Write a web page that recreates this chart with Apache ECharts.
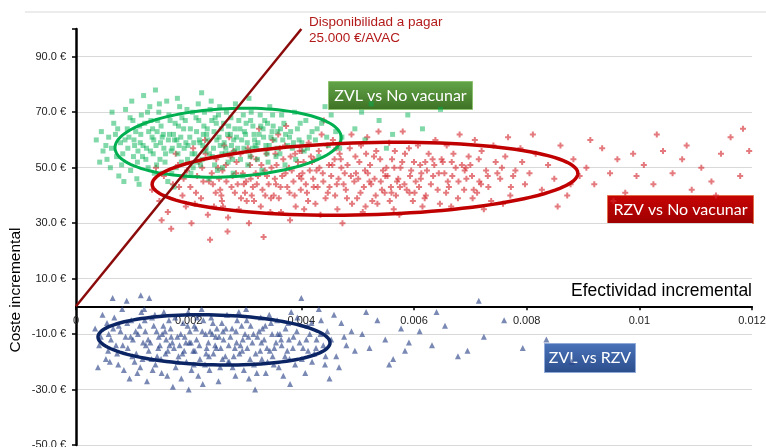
<!DOCTYPE html>
<html><head><meta charset="utf-8">
<script src="https://cdn.jsdelivr.net/npm/echarts@6/dist/echarts.min.js"></script>
<style>html,body{margin:0;padding:0;background:#fff}#c{width:766px;height:447px}</style>
</head><body><div id="c"></div>
<script>
// Axis settings
const xMin = 0, xMax = 0.012, xInterval = 0.002;
const yMin = -50, yMax = 100, yInterval = 20;
// Willingness-to-pay line: 25.000 €/AVAC
const wtpX = [0, 0.004];
const wtpY = [0, 100];
// Ellipses: [cx, cy, rx, ry, tilt°] in data units
const ellZVLvsNV = [0.0027, 59, 0.00201, 12.3, 2.8];
const ellRZVvsNV = [0.00513, 46, 0.00378, 13, 1.5];
const ellZVLvsRZV = [0.00245, -12.1, 0.00206, 9.0, -1.5];
// Scatter clouds
const zvlVsNoVac = [[0.00042,52],[0.00036,60],[0.00048,56],[0.00045,63],
[0.00053,58],[0.00061,50],[0.00067,66],[0.00072,54],[0.00058,61],[0.00076,47],[0.00064,70],[0.00079,59],[0.00055,53],[0.0007,62],
[0.00083,55],[0.00091,64],[0.00097,49],[0.00104,58],[0.00088,71],[0.00109,52],[0.00094,61],[0.00101,67],[0.00085,45],[0.0011,56],[0.00099,74],[0.00106,63],
[0.00114,59],[0.00122,66],[0.00128,50],[0.00135,61],[0.00118,54],[0.00131,72],[0.00125,57],[0.00139,48],[0.00116,69],[0.00129,63],[0.00137,55],[0.0012,76],[0.00112,44],[0.00133,67],
[0.00142,58],[0.00151,65],[0.00158,52],[0.00164,60],[0.00147,70],[0.00169,56],[0.00154,48],[0.00144,63],[0.00161,74],[0.00156,57],[0.00167,67],[0.00149,53],[0.00153,61],[0.00163,45],[0.00141,78],
[0.00173,62],[0.00181,55],[0.00188,68],[0.00195,59],[0.00178,50],[0.00191,64],[0.00184,72],[0.00171,57],[0.00198,53],[0.00186,61],[0.00176,66],[0.00193,47],[0.0018,75],[0.00199,58],[0.00174,43],
[0.00202,61],[0.00211,55],[0.00218,67],[0.00225,58],[0.00207,70],[0.00221,51],[0.00214,63],[0.00229,56],[0.00204,48],[0.00217,73],[0.00227,65],[0.00209,59],[0.00212,52],[0.00223,77],
[0.00234,60],[0.00242,54],[0.00249,66],[0.00256,58],[0.00238,71],[0.00251,49],[0.00245,63],[0.00259,55],[0.00231,57],[0.00247,68],[0.00254,61],[0.00236,46],[0.0024,74],[0.00258,64],
[0.00263,59],[0.00271,65],[0.00278,53],[0.00285,61],[0.00267,70],[0.00281,56],[0.00274,62],[0.00289,67],[0.0026,50],[0.00276,58],[0.00283,73],[0.00265,55],[0.00279,48],
[0.00294,60],[0.00302,66],[0.00309,54],[0.00316,62],[0.00298,57],[0.00311,70],[0.00305,51],[0.00291,64],[0.00318,58],[0.00307,75],[0.00296,47],[0.00314,65],
[0.00323,59],[0.00332,64],[0.00339,55],[0.00346,61],[0.00327,69],[0.00341,52],[0.00335,67],[0.00321,57],[0.00348,63],[0.0033,49],[0.00344,72],
[0.00353,60],[0.00362,55],[0.00369,66],[0.00376,58],[0.00358,63],[0.00371,51],[0.00365,69],[0.00379,61],[0.00355,54],
[0.00384,57],[0.00393,64],[0.00401,59],[0.00408,67],[0.0039,53],[0.00414,61],[0.00388,70],[0.00405,56],[0.00419,63],
[0.00425,60],[0.00436,66],[0.00448,58],[0.00461,63],[0.00431,54],[0.00453,69],[0.00472,61],[0.00442,72],[0.00468,57],
[0.00495,64],[0.00513,60],[0.00538,67],[0.00562,62],[0.00589,69],[0.00615,64],[0.00647,71],[0.00507,70],[0.00551,57],[0.00524,73],
[0.00092,57],[0.00103,60],[0.00124,53],[0.00136,64],[0.0015,59],[0.00166,62],[0.00179,60],[0.00194,67],[0.00206,55],[0.00219,60],[0.00233,64],[0.00244,57],[0.00253,69],[0.00269,62],[0.0028,60],[0.00299,63],[0.00304,59],[0.00325,62],[0.00337,58],[0.0035,65],[0.00367,60],[0.00381,63],[0.00115,62],[0.00145,67],[0.00183,58],[0.00226,62],[0.00272,55],[0.00313,57],[0.0034,66],[0.00396,60],
[0.00063,57],[0.00074,64],[0.00081,51],[0.00087,60],[0.00096,68],[0.00102,54],[0.00108,46],[0.00113,65],[0.00119,58],[0.00127,70],[0.00132,56],[0.00138,60],[0.00143,51],[0.00148,73],[0.00155,62],[0.00159,55],[0.00165,69],[0.0017,48],[0.00175,60],[0.00182,65],[0.00187,52],[0.00192,57],[0.00197,71],[0.00203,64],[0.00208,50],[0.00213,68],[0.0022,59],[0.00224,53],[0.00228,70],[0.00232,62],[0.00237,55],[0.00241,67],[0.00246,51],[0.0025,60],[0.00255,72],[0.00262,66],[0.00266,57],[0.0027,52],[0.00275,68],[0.00282,64],[0.00287,57],[0.00292,53],[0.00297,69],[0.00301,62],[0.00306,56],[0.0031,67],[0.00317,60],[0.00322,53],[0.00328,65],[0.00333,61],[0.00343,58],[0.00349,69],[0.00357,57],[0.00363,64],[0.00372,62],[0.00386,59],[0.00398,66],[0.00411,57],[0.00428,64],[0.00445,61]];

const rzvVsNoVac = [[0.00135,42],[0.00148,38],[0.00156,47],[0.00163,34],[0.00172,44],[0.00181,51],[0.00189,40],[0.00195,36],[0.00169,28],[0.00142,50],[0.00177,55],[0.00191,46],[0.00152,31],
[0.00203,43],[0.00211,37],[0.00218,52],[0.00226,45],[0.00234,33],[0.00241,48],[0.00248,41],[0.00208,57],[0.00222,39],[0.0023,55],[0.00238,24],[0.00215,47],[0.00245,36],[0.00205,30],[0.00229,60],[0.00243,44],
[0.00252,50],[0.00259,38],[0.00267,45],[0.00274,54],[0.00282,41],[0.00289,35],[0.00296,48],[0.00256,42],[0.00263,58],[0.0027,32],[0.00278,47],[0.00285,52],[0.00293,39],[0.00254,46],[0.00269,27],[0.0028,56],[0.00298,44],[0.00272,61],[0.00261,36],
[0.00302,45],[0.00309,51],[0.00316,38],[0.00323,47],[0.00331,42],[0.00338,55],[0.00345,34],[0.00305,57],[0.00312,40],[0.0032,53],[0.00328,36],[0.00335,49],[0.00342,44],[0.00349,60],[0.00307,30],[0.00319,48],[0.00333,25],[0.00347,50],[0.00325,64],[0.00314,43],
[0.00353,46],[0.0036,39],[0.00368,53],[0.00375,43],[0.00383,49],[0.0039,36],[0.00397,56],[0.00356,51],[0.00364,34],[0.00371,58],[0.00379,41],[0.00386,45],[0.00394,52],[0.00359,62],[0.00366,47],[0.0038,31],[0.00399,42],[0.00373,65],[0.00351,40],[0.00389,55],
[0.00402,48],[0.0041,41],[0.00417,54],[0.00425,37],[0.00432,50],[0.00439,45],[0.00446,58],[0.00405,35],[0.00413,59],[0.00421,46],[0.00429,43],[0.00436,62],[0.00443,39],[0.00449,51],[0.00408,44],[0.00423,53],[0.00434,33],[0.00415,49],[0.0044,67],[0.00401,56],
[0.00453,47],[0.0046,40],[0.00468,55],[0.00475,44],[0.00482,51],[0.0049,37],[0.00497,48],[0.00456,60],[0.00464,35],[0.00471,50],[0.00479,42],[0.00486,57],[0.00494,45],[0.00459,53],[0.00473,30],[0.00489,62],[0.00466,46],[0.00499,39],
[0.00503,52],[0.00511,43],[0.00518,48],[0.00526,38],[0.00533,56],[0.00541,45],[0.00548,41],[0.00506,58],[0.00514,36],[0.00522,51],[0.0053,46],[0.00537,63],[0.00545,49],[0.00509,34],[0.00529,54],[0.00543,42],[0.00517,61],[0.00535,37],
[0.00553,47],[0.00561,53],[0.00568,40],[0.00576,50],[0.00583,44],[0.00591,57],[0.00598,38],[0.00556,59],[0.00564,35],[0.00572,46],[0.00579,52],[0.00587,42],[0.00595,49],[0.00559,43],[0.0058,63],[0.00574,33],[0.00566,56],
[0.00603,45],[0.00611,51],[0.00619,39],[0.00626,55],[0.00634,47],[0.00642,42],[0.00649,53],[0.00607,58],[0.00615,36],[0.00623,49],[0.0063,44],[0.00638,60],[0.00646,37],[0.0062,52],[0.00601,41],
[0.00654,48],[0.00662,43],[0.0067,55],[0.00678,39],[0.00685,51],[0.00693,46],[0.00658,58],[0.00666,36],[0.00674,50],[0.00681,62],[0.00689,42],[0.00697,54],[0.0066,45],
[0.00703,47],[0.00712,41],[0.0072,56],[0.00728,49],[0.00737,38],[0.00745,52],[0.00708,60],[0.00716,45],[0.00732,43],[0.00741,58],[0.00724,35],[0.007,51],
[0.00753,46],[0.00762,54],[0.00771,40],[0.0078,49],[0.00789,57],[0.00797,44],[0.00758,37],[0.00767,61],[0.00776,47],[0.00792,52],
[0.00805,48],[0.00816,55],[0.00827,42],[0.00838,51],[0.00849,46],[0.0086,58],[0.00872,40],[0.00883,53],[0.00894,47],[0.00811,62],[0.00855,36],[0.00878,44],
[0.00906,50],[0.0092,44],[0.00934,57],[0.00948,48],[0.00961,53],[0.00975,41],[0.00989,55],[0.00913,60],[0.00954,38],[0.00995,47],
[0.01008,51],[0.01025,44],[0.01042,56],[0.01059,48],[0.01076,53],[0.01093,42],[0.01031,62],[0.01084,58],
[0.0111,50],[0.01128,45],[0.01145,55],[0.01162,61],[0.01179,47],[0.01195,56],[0.01136,40],[0.01184,64],
[0.0026,49],[0.00287,44],[0.0031,46],[0.00336,40],[0.00355,44],[0.00378,50],[0.004,46],[0.00427,49],[0.0045,43],[0.00477,48],[0.00501,46],[0.00524,44],[0.00551,50],[0.0057,45],[0.00593,47],[0.00613,48],[0.00636,51],[0.00668,47],[0.0069,49],[0.00719,44],[0.00748,48],[0.003,41],[0.00362,57],[0.00419,52],[0.00462,57],[0.00515,55],[0.0056,41],[0.00609,43],[0.00651,52],[0.00706,42],
[0.00183,43],[0.00197,49],[0.00213,41],[0.00224,50],[0.00236,45],[0.00249,53],[0.00258,40],[0.00266,51],[0.00276,43],[0.00284,48],[0.00292,55],[0.00303,38],[0.00311,54],[0.00321,44],[0.00329,51],[0.00339,47],[0.00346,39],[0.00354,55],[0.00363,43],[0.00372,48],[0.00381,54],[0.00388,40],[0.00396,47],[0.00404,52],[0.00412,38],[0.00422,43],[0.00431,56],[0.00438,48],[0.00447,41],[0.00455,51],[0.00463,44],[0.0047,53],[0.00481,39],[0.00488,47],[0.00496,54],[0.00505,41],[0.00513,49],[0.00521,45],[0.00532,40],[0.0054,53],[0.00549,47],[0.00557,38],[0.00565,50],[0.00575,43],[0.00584,55],[0.00592,41],[0.006,52],[0.00612,46],[0.00621,40],[0.00633,53],[0.00644,48],[0.00657,41],[0.00667,52],[0.00679,45],[0.00692,50],[0.00704,39],[0.00715,53],[0.00731,47],[0.00756,50],[0.00772,43]];

const zvlVsRzv = [[0.00034,-8],[0.00041,-14],[0.00047,-3],[0.00053,-19],[0.00058,-10],[0.00039,-22],[0.00055,-6],
[0.00062,-12],[0.00068,-4],[0.00073,-17],[0.00079,-9],[0.00085,-23],[0.00065,3],[0.00071,-14],[0.00082,-1],[0.00088,-11],[0.0006,-20],[0.00076,-7],
[0.00092,-15],[0.00098,-5],[0.00104,-20],[0.0011,-10],[0.00116,-2],[0.00095,-26],[0.00101,-12],[0.00107,-17],[0.00113,-7],[0.00119,-13],[0.0009,2],[0.00109,-24],[0.00115,4],
[0.00123,-9],[0.00129,-16],[0.00135,-4],[0.00141,-21],[0.00147,-11],[0.00126,-27],[0.00132,-13],[0.00138,-7],[0.00144,-18],[0.00121,-1],[0.0013,3],[0.00149,-14],[0.00136,-23],
[0.00153,-10],[0.00159,-17],[0.00165,-5],[0.00171,-13],[0.00177,-22],[0.00156,-2],[0.00162,-25],[0.00168,-8],[0.00174,-15],[0.00151,-19],[0.0018,-11],[0.0016,-12],[0.00172,-29],
[0.00184,-14],[0.0019,-6],[0.00196,-20],[0.00202,-9],[0.00208,-16],[0.00187,-26],[0.00193,-11],[0.00199,-2],[0.00205,-23],[0.00182,-18],[0.0021,-7],[0.00195,-13],[0.002,-30],
[0.00214,-12],[0.0022,-19],[0.00226,-5],[0.00232,-15],[0.00238,-9],[0.00217,-25],[0.00223,-1],[0.00229,-21],[0.00235,-13],[0.00211,-16],[0.0024,-4],[0.00225,-28],[0.0023,-10],
[0.00244,-17],[0.0025,-8],[0.00256,-22],[0.00262,-12],[0.00268,-3],[0.00247,-14],[0.00253,-27],[0.00259,-6],[0.00265,-18],[0.00242,-10],[0.0027,-20],[0.00257,-15],
[0.00274,-11],[0.0028,-18],[0.00286,-5],[0.00292,-14],[0.00298,-23],[0.00277,-8],[0.00283,-25],[0.00289,-2],[0.00295,-16],[0.00272,-20],[0.003,-10],[0.00285,-13],
[0.00304,-15],[0.0031,-7],[0.00316,-21],[0.00322,-11],[0.00328,-4],[0.00307,-26],[0.00313,-13],[0.00319,-17],[0.00325,-9],[0.00302,-1],[0.0033,-19],[0.00318,-30],
[0.00334,-12],[0.0034,-20],[0.00346,-6],[0.00352,-15],[0.00358,-10],[0.00337,-24],[0.00343,-3],[0.00349,-18],[0.00355,-13],[0.00331,-8],[0.0036,-22],
[0.00365,-14],[0.00372,-8],[0.00379,-19],[0.00386,-11],[0.00393,-4],[0.00368,-25],[0.00375,-16],[0.00382,-2],[0.00389,-21],[0.00397,-13],[0.00362,-10],[0.0038,-28],
[0.00403,-15],[0.00411,-7],[0.00419,-20],[0.00427,-12],[0.00435,-5],[0.00407,-24],[0.00415,-10],[0.00423,-17],[0.00431,-1],[0.00439,-14],[0.00446,-9],[0.004,3],[0.00442,-21],
[0.00453,-12],[0.00462,-18],[0.00471,-6],[0.0048,-14],[0.00489,-9],[0.00458,-3],[0.00467,-22],[0.00476,-11],[0.00495,-16],[0.0045,-26],
[0.00508,-10],[0.00521,-15],[0.00535,-5],[0.00549,-12],[0.00563,-19],[0.00577,-8],[0.00591,-13],[0.00515,-2],[0.00556,-21],[0.00584,-16],
[0.0061,-9],[0.00632,-14],[0.00655,-7],[0.00678,-18],[0.00715,2],[0.00724,-11],[0.0076,-5],[0.00793,-15],[0.00835,-12],[0.0088,-20],[0.0064,-2],[0.00695,-16],
[0.00097,-11],[0.00118,-19],[0.00143,-9],[0.00166,-14],[0.00189,-17],[0.00213,-8],[0.00236,-18],[0.00261,-9],[0.00282,-15],[0.00306,-11],[0.00327,-16],[0.00348,-10],[0.00378,-12],[0.00412,-16],[0.00124,-14],[0.00155,-7],[0.00201,-13],[0.00248,-11],[0.00294,-7],[0.00339,-15],
[0.00044,-11],[0.00057,-16],[0.00066,-8],[0.00075,-21],[0.00083,-14],[0.00091,-6],[0.001,-18],[0.00106,-9],[0.00114,-22],[0.00122,-5],[0.00128,-12],[0.00134,-19],[0.0014,-3],[0.00146,-15],[0.00152,-24],[0.00158,-9],[0.00163,-16],[0.00169,-11],[0.00176,-4],[0.00181,-20],[0.00186,-10],[0.00192,-16],[0.00198,-7],[0.00204,-13],[0.00209,-21],[0.00215,-4],[0.00219,-14],[0.00224,-9],[0.00231,-17],[0.00237,-23],[0.00243,-6],[0.00249,-15],[0.00254,-11],[0.0026,-19],[0.00266,-8],[0.00271,-14],[0.00278,-22],[0.00284,-9],[0.0029,-17],[0.00296,-12],[0.00303,-5],[0.00309,-19],[0.00315,-10],[0.00321,-24],[0.00329,-13],[0.00336,-7],[0.00344,-16],[0.00351,-21],[0.00357,-5],[0.00364,-12],[0.00371,-18],[0.00377,-6],[0.00385,-15],[0.00392,-9],[0.00401,-19],[0.00409,-12],[0.00418,-6],[0.00426,-15],[0.00434,-10],[0.00443,-18]];

const FONT = '"Liberation Sans", Arial, sans-serif';
const BOXFONT = 'Lato, "Open Sans", sans-serif';

function ellipseRenderer(color, width) {
  return function (params, api) {
    const c = api.coord([api.value(0), api.value(1)]);
    const s = api.size([api.value(2), api.value(3)]);
    const a = api.value(4) * Math.PI / 180;
    const pts = [];
    for (let i = 0; i < 120; i++) {
      const t = i / 120 * 2 * Math.PI;
      const ex = s[0] * Math.cos(t), ey = s[1] * Math.sin(t);
      pts.push([c[0] + ex * Math.cos(a) + ey * Math.sin(a), c[1] - ex * Math.sin(a) + ey * Math.cos(a)]);
    }
    return { type: 'polygon', shape: { points: pts }, silent: true,
      style: { fill: 'none', stroke: color, lineWidth: width } };
  };
}

function box(x, y, w, h, text, c1, c2, border) {
  return { type: 'group', left: x, top: y, children: [
    { type: 'rect', shape: { x: 0, y: 0, width: w, height: h },
      style: { fill: { type: 'linear', x: 0, y: 0, x2: 0, y2: 1, colorStops: [{ offset: 0, color: c1 }, { offset: 1, color: c2 }] },
               stroke: border, lineWidth: 1 } },
    { type: 'text', x: w / 2, y: h / 2,
      style: { text: text, fill: '#fff', font: '16px ' + BOXFONT, textAlign: 'center', textVerticalAlign: 'middle' } }
  ]};
}

const plusPath = 'path://M2,0H4V2H6V4H4V6H2V4H0V2H2Z';
const chart = echarts.init(document.getElementById('c'), null, { renderer: 'canvas' });
chart.setOption({
  animation: false,
  backgroundColor: '#fff',
  grid: { left: 76, right: 14, top: 29, bottom: 2, containLabel: false, outerBoundsMode: 'none' },
  xAxis: {
    type: 'value', min: xMin, max: xMax, interval: xInterval, position: 'bottom', offset: 0,
    axisLine: { onZero: false, lineStyle: { color: '#000', width: 2 } },
    axisTick: { show: true, length: 4, lineStyle: { color: '#000', width: 1.5 } },
    axisLabel: { show: true, fontSize: 11, color: '#222', fontFamily: FONT, margin: 9,
      showMinLabel: true, showMaxLabel: true, hideOverlap: false },
    splitLine: { show: false }
  },
  yAxis: {
    type: 'value', min: yMin, max: yMax, interval: yInterval,
    axisLine: { show: true, onZero: false, lineStyle: { color: '#000', width: 2.5 } },
    axisTick: { show: true, length: 4, lineStyle: { color: '#000', width: 1.5 } },
    axisLabel: { fontSize: 11, color: '#222', fontFamily: FONT, margin: 10,
      formatter: v => v === yMax ? '' : v.toFixed(1) + ' €' },
    splitLine: { show: true, showMaxLine: false, lineStyle: { color: '#d9d9d9', width: 1.2 } }
  },
  series: [
    { name: 'RZV vs No vacunar', type: 'scatter', data: rzvVsNoVac, symbol: plusPath, symbolSize: 6,
      itemStyle: { color: 'rgba(212,42,48,0.78)' } },
    { name: 'ZVL vs No vacunar', type: 'scatter', data: zvlVsNoVac, symbol: 'rect', symbolSize: 5,
      itemStyle: { color: 'rgba(0,176,80,0.62)' } },
    { name: 'ZVL vs RZV', type: 'scatter', data: zvlVsRzv, symbol: 'triangle', symbolSize: 6,
      itemStyle: { color: 'rgba(40,65,135,0.78)' } },
    { name: 'WTP', type: 'line', data: wtpX.map((x, i) => [x, wtpY[i]]), symbol: 'none',
      lineStyle: { color: '#8b0a0a', width: 2.5 }, clip: false },
    { type: 'custom', renderItem: ellipseRenderer('#00b050', 3), data: [ellZVLvsNV], clip: false, z: 3 },
    { type: 'custom', renderItem: ellipseRenderer('#c00000', 3.5), data: [ellRZVvsNV], clip: false, z: 3 },
    { type: 'custom', renderItem: ellipseRenderer('#0b2464', 3.5), data: [ellZVLvsRZV], clip: false, z: 3 }
  ],
  graphic: [
    { type: 'line', shape: { x1: 25, y1: 12, x2: 766, y2: 12 }, style: { stroke: '#d9d9d9', lineWidth: 1 } },
    { type: 'text', left: 309, top: 14,
      style: { text: 'Disponibilidad a pagar\n25.000 €/AVAC', fill: '#b31b1b', font: '13.5px ' + FONT, lineHeight: 16 } },
    { type: 'text', x: 752, y: 291,
      style: { text: 'Efectividad incremental', fill: '#000', font: '17.5px ' + FONT, textAlign: 'right', textVerticalAlign: 'middle' } },
    { type: 'text', x: 16, y: 290, rotation: Math.PI / 2,
      style: { text: 'Coste incremental', fill: '#000', font: '15.5px ' + FONT, textAlign: 'center', textVerticalAlign: 'middle' } },
    box(328, 81, 144, 28, 'ZVL vs No vacunar', '#63a548', '#3d7124', '#8cc26e'),
    box(607, 195, 146, 28, 'RZV vs No vacunar', '#c80404', '#9e0000', '#e0704a'),
    box(544, 343, 91, 29, 'ZVL vs RZV', '#4a73ba', '#2b4d8b', '#8fa9d8')
  ]
});
// Move the x axis up so that it crosses the y axis at cost = 0
const yZeroPx = chart.convertToPixel({ yAxisIndex: 0 }, 0);
const yBottomPx = chart.convertToPixel({ yAxisIndex: 0 }, yMin);
chart.setOption({ xAxis: { offset: yZeroPx - yBottomPx } });
</script></body></html>
